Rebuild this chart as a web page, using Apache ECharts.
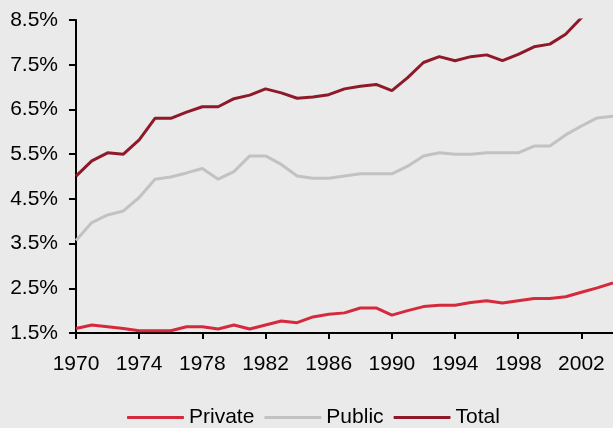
<!DOCTYPE html>
<html>
<head>
<meta charset="utf-8">
<script src="https://cdn.jsdelivr.net/npm/echarts@6/dist/echarts.min.js"></script>
<style>
  html, body { margin: 0; padding: 0; background: #eaeaea; }
  #chart { width: 613px; height: 428px; }
</style>
</head>
<body>
<div id="chart"></div>
<script>
// Years 1970–2004
const years = [];
for (let y = 1970; y <= 2004; y++) years.push(String(y));

// Spending as share of GDP (%)
const privateShare = [
  1.60, 1.68, 1.64, 1.60, 1.55, 1.55, 1.55, 1.64, 1.64, 1.59,
  1.68, 1.59, 1.68, 1.77, 1.73, 1.86, 1.92, 1.95, 2.06, 2.06,
  1.90, 2.00, 2.09, 2.12, 2.12, 2.18, 2.22, 2.17, 2.22, 2.27,
  2.27, 2.31, 2.41, 2.51, 2.62
];
const publicShare = [
  3.57, 3.97, 4.14, 4.23, 4.53, 4.94, 4.99, 5.08, 5.18, 4.94,
  5.11, 5.46, 5.46, 5.27, 5.01, 4.96, 4.96, 5.01, 5.06, 5.06,
  5.06, 5.23, 5.46, 5.53, 5.50, 5.50, 5.53, 5.53, 5.53, 5.68,
  5.68, 5.93, 6.13, 6.31, 6.35
];
const totalShare = [
  5.01, 5.35, 5.53, 5.50, 5.82, 6.30, 6.30, 6.44, 6.56, 6.56,
  6.74, 6.82, 6.96, 6.87, 6.75, 6.78, 6.83, 6.96, 7.02, 7.06,
  6.92, 7.21, 7.55, 7.68, 7.59, 7.68, 7.72, 7.59, 7.73, 7.90,
  7.96, 8.18, 8.55, 8.85, 9.05
];

const yMin = 1.5, yMax = 8.5, yStep = 1;

const textColor = '#000';
const fontFamily = 'Liberation Sans, Arial, sans-serif';
const fontSize = 21;

const chart = echarts.init(document.getElementById('chart'), null, { renderer: 'canvas' });
chart.setOption({
  backgroundColor: '#eaeaea',
  animation: false,
  grid: { left: 76, right: 0, top: 20, bottom: 95, containLabel: false },
  legend: {
    left: 127,
    top: 407,
    padding: 0,
    itemWidth: 57,
    itemHeight: 3,
    itemGap: 10,
    icon: 'roundRect',
    textStyle: { fontSize: fontSize, color: textColor, fontFamily: fontFamily },
    data: ['Private', 'Public', 'Total']
  },
  xAxis: {
    type: 'category',
    data: years,
    boundaryGap: false,
    axisLine: { lineStyle: { color: '#000', width: 2 } },
    axisTick: { interval: 3, length: 6, lineStyle: { color: '#000', width: 2 } },
    axisLabel: {
      interval: 3,
      margin: 21,
      fontSize: fontSize,
      color: textColor,
      fontFamily: fontFamily
    },
    splitLine: { show: false }
  },
  yAxis: {
    type: 'value',
    min: yMin,
    max: yMax,
    interval: yStep,
    axisLine: { show: true, lineStyle: { color: '#000', width: 2 } },
    axisTick: { show: true, length: 7, lineStyle: { color: '#000', width: 2 } },
    axisLabel: {
      margin: 18,
      fontSize: fontSize,
      color: textColor,
      fontFamily: fontFamily,
      formatter: v => v.toFixed(1) + '%'
    },
    splitLine: { show: false }
  },
  series: [
    {
      name: 'Private', type: 'line', data: privateShare, symbol: 'none',
      lineStyle: { color: '#d42a3c', width: 3 }, itemStyle: { color: '#d42a3c' }
    },
    {
      name: 'Public', type: 'line', data: publicShare, symbol: 'none',
      lineStyle: { color: '#c2c2c2', width: 3 }, itemStyle: { color: '#c2c2c2' }
    },
    {
      name: 'Total', type: 'line', data: totalShare, symbol: 'none', clip: true,
      lineStyle: { color: '#8e1a29', width: 3 }, itemStyle: { color: '#8e1a29' }
    }
  ]
});
</script>
</body>
</html>
